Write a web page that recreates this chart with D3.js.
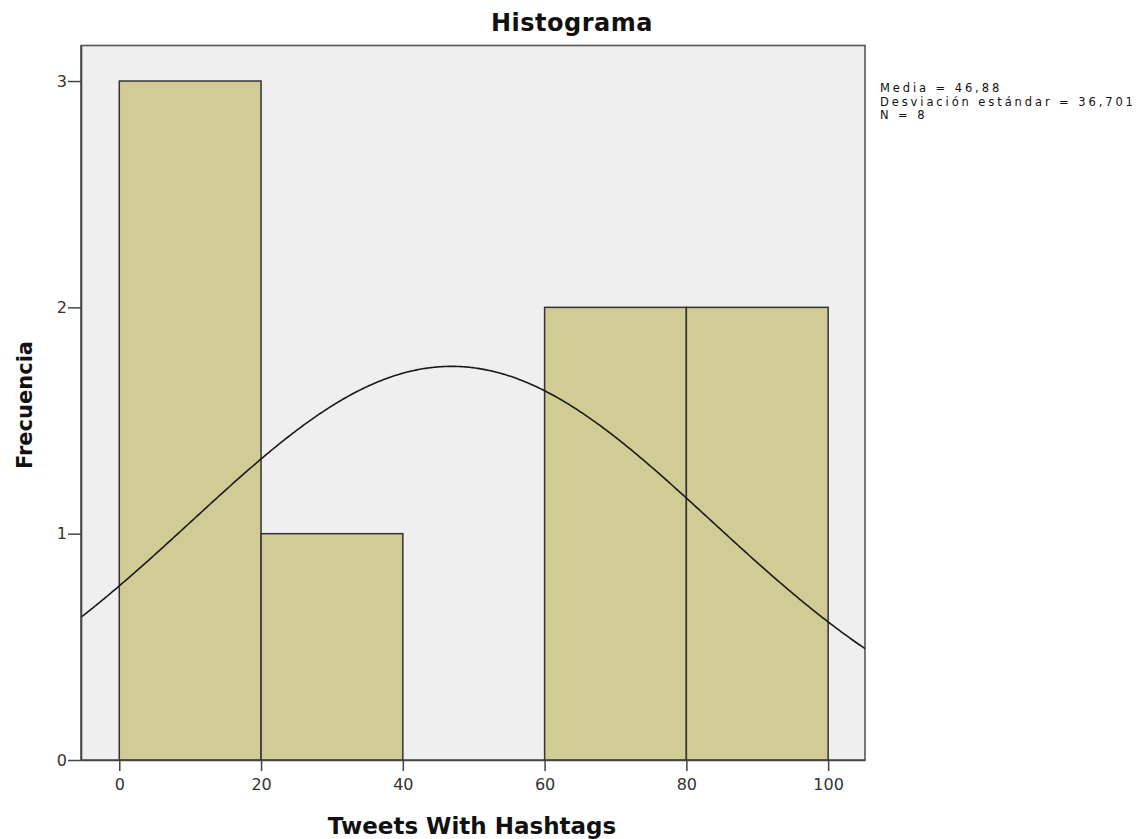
<!DOCTYPE html>
<html><head><meta charset="utf-8">
<script src="https://cdn.jsdelivr.net/npm/d3@7"></script>
<style>body{margin:0;background:#fff;} text{font-family:"DejaVu Sans",sans-serif;}</style>
</head><body>
<svg id="c" width="1148" height="839"></svg>
<script>
const binStarts = [0, 20, 40, 60, 80];
const binEnds = [20, 40, 60, 80, 100];
const counts = [3, 1, 0, 2, 2];
const xTicks = [0, 20, 40, 60, 80, 100];
const yTicks = [0, 1, 2, 3];
const mean = 46.88, sd = 36.701, n = 8, binWidth = 20;
const statsLines = ["Media = 46,88", "Desviación estándar = 36,701", "N = 8"];

const svg = d3.select("#c");
const L = 81, R = 865, T = 45.5, B = 760;
const x = d3.scaleLinear().domain([-5.4, 105.2]).range([L, R]);
const y = d3.scaleLinear().domain([0, 3.157]).range([B, T]);

svg.append("rect").attr("x", L).attr("y", T).attr("width", R - L).attr("height", B - T)
  .attr("fill", "#efefef").attr("stroke", "#555").attr("stroke-width", 1.6);

const bins = binStarts.map((s, i) => ({s, e: binEnds[i], c: counts[i]})).filter(d => d.c > 0);
svg.selectAll(".bar").data(bins).enter().append("rect")
  .attr("x", d => x(d.s)).attr("y", d => y(d.c))
  .attr("width", d => x(d.e) - x(d.s)).attr("height", d => y(0) - y(d.c))
  .attr("fill", "#d1cc95").attr("stroke", "#333").attr("stroke-width", 1.5);

// fitted normal curve (from the stated mean, sd, N and bin width)
const xs = d3.range(-5.4, 105.21, 0.2);
const dens = v => n * binWidth / (sd * Math.sqrt(2 * Math.PI)) * Math.exp(-0.5 * ((v - mean) / sd) ** 2);
svg.append("path").datum(xs)
  .attr("d", d3.line().x(v => x(v)).y(v => y(dens(v))))
  .attr("fill", "none").attr("stroke", "#1a1a1a").attr("stroke-width", 1.6);

// axes
const xa = svg.append("g").attr("transform", `translate(0,${B})`)
  .call(d3.axisBottom(x).tickValues(xTicks).tickSize(11).tickSizeOuter(0).tickPadding(8).tickFormat(d3.format("d")));
const ya = svg.append("g").attr("transform", `translate(${L},0)`)
  .call(d3.axisLeft(y).tickValues(yTicks).tickSize(13).tickSizeOuter(0).tickPadding(1).tickFormat(d3.format("d")));
[xa, ya].forEach(g => {
  g.select(".domain").attr("stroke", "#444").attr("stroke-width", 1.6);
  g.selectAll(".tick line").attr("stroke", "#444").attr("stroke-width", 1.5);
  g.selectAll(".tick text").attr("fill", "#333").style("font-size", "16px").style("font-family", "DejaVu Sans, sans-serif");
});

svg.append("text").attr("x", 572).attr("y", 31).attr("text-anchor", "middle")
  .style("font-size", "24px").style("font-weight", "bold").style("letter-spacing", "0.5px").attr("fill", "#111").text("Histograma");
svg.append("text").attr("x", 472).attr("y", 834).attr("text-anchor", "middle")
  .style("font-size", "23px").style("font-weight", "bold").attr("fill", "#111").text("Tweets With Hashtags");
svg.append("text").attr("transform", `translate(32,405) rotate(-90)`).attr("text-anchor", "middle")
  .style("font-size", "21px").style("font-weight", "bold").attr("fill", "#111").text("Frecuencia");

svg.selectAll(".st").data(statsLines).enter().append("text")
  .attr("x", 880).attr("y", (d, i) => 92 + i * 13.6)
  .style("font-size", "11.5px").style("letter-spacing", "2.9px").attr("fill", "#111").text(d => d);
</script>
</body></html>
